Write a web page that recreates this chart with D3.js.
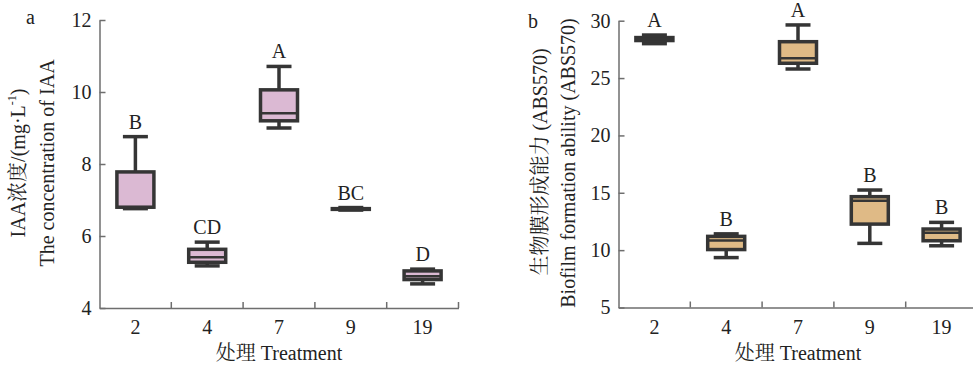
<!DOCTYPE html>
<html><head><meta charset="utf-8">
<script src="https://cdn.jsdelivr.net/npm/d3@7"></script>
<style>
html,body{margin:0;padding:0;background:#fff;}
svg{display:block;}
text{font-family:"Liberation Serif","Noto Serif CJK SC","Noto Sans CJK SC",serif;fill:#222;}
</style></head>
<body>
<svg id="chart" width="973" height="365"></svg>
<script>
// ---- data ----
const categories = ["2", "4", "7", "9", "19"];

// Panel a: IAA concentration (mg·L-1)
const iaaMin    = [6.76, 5.17, 9.00, 6.72, 4.67];
const iaaQ1     = [6.80, 5.27, 9.20, 6.74, 4.79];
const iaaMedian = [6.80, 5.41, 9.41, 6.75, 4.88];
const iaaQ3     = [7.78, 5.63, 10.06, 6.76, 5.03];
const iaaMax    = [8.76, 5.83, 10.71, 6.79, 5.08];
const iaaLetters = ["B", "CD", "A", "BC", "D"];
const iaaTicks = [4, 6, 8, 10, 12];

// Panel b: biofilm formation ability (ABS570)
const bioMin    = [28.00, 9.35, 25.79, 10.59, 10.38];
const bioQ1     = [28.27, 10.05, 26.29, 12.27, 10.82];
const bioMedian = [28.40, 10.85, 26.72, 14.31, 11.52];
const bioQ3     = [28.53, 11.20, 28.17, 14.66, 11.84];
const bioMax    = [28.75, 11.42, 29.63, 15.24, 12.42];
const bioLetters = ["A", "B", "A", "B", "B"];
const bioTicks = [5, 10, 15, 20, 25, 30];

const svg = d3.select("#chart");
const axisColor = "#6e6e6e";
const boxStroke = "#353535";

function panel(opts) {
  const x = d3.scaleBand().domain(categories).range([opts.x0, opts.x1]).paddingInner(0).paddingOuter(0);
  const y = d3.scaleLinear().domain(opts.domain).range([opts.yBottom, opts.yTop]);
  const g = svg.append("g");

  // y axis (inward ticks)
  const ya = g.append("g").attr("transform", `translate(${opts.x0},0)`)
    .call(d3.axisLeft(y).tickValues(opts.ticks).tickSizeInner(-6).tickSizeOuter(0).tickPadding(8));
  ya.select(".domain").attr("stroke", axisColor).attr("stroke-width", 1.5);
  ya.selectAll(".tick line").attr("stroke", axisColor).attr("stroke-width", 1.5);
  ya.selectAll(".tick text").attr("font-size", 20).attr("font-family", "Liberation Serif").attr("fill", "#222");

  // x axis: labels at band centers, ticks at band boundaries (inward)
  const xa = g.append("g").attr("transform", `translate(0,${opts.yBottom})`)
    .call(d3.axisBottom(x).tickSize(0).tickPadding(12));
  xa.select(".domain").attr("stroke", axisColor).attr("stroke-width", 1.5);
  xa.selectAll(".tick text").attr("font-size", 20).attr("font-family", "Liberation Serif").attr("fill", "#222");
  g.append("g").selectAll("line").data(categories).join("line")
    .attr("x1", d => x(d) + x.bandwidth()).attr("x2", d => x(d) + x.bandwidth())
    .attr("y1", opts.yBottom).attr("y2", opts.yBottom - 6)
    .attr("stroke", axisColor).attr("stroke-width", 1.5);

  // boxes
  const bw = 37, cw = 25;
  const rows = categories.map((c, i) => ({
    c, min: opts.min[i], q1: opts.q1[i], med: opts.med[i], q3: opts.q3[i], max: opts.max[i], lab: opts.letters[i]
  }));
  const bg = g.append("g").selectAll("g").data(rows).join("g")
    .attr("transform", d => `translate(${x(d.c) + x.bandwidth() / 2},0)`);
  bg.append("line").attr("x1", 0).attr("x2", 0)
    .attr("y1", d => y(d.min)).attr("y2", d => y(d.max))
    .attr("stroke", boxStroke).attr("stroke-width", 3.5);
  bg.append("line").attr("x1", -cw / 2).attr("x2", cw / 2)
    .attr("y1", d => y(d.max)).attr("y2", d => y(d.max))
    .attr("stroke", boxStroke).attr("stroke-width", 3.5);
  bg.append("line").attr("x1", -cw / 2).attr("x2", cw / 2)
    .attr("y1", d => y(d.min)).attr("y2", d => y(d.min))
    .attr("stroke", boxStroke).attr("stroke-width", 3.5);
  bg.append("rect").attr("x", -bw / 2).attr("width", bw)
    .attr("y", d => y(d.q3)).attr("height", d => Math.max(0.01, y(d.q1) - y(d.q3)))
    .attr("fill", opts.fill).attr("stroke", boxStroke).attr("stroke-width", 3.5);
  bg.append("line").attr("x1", -bw / 2).attr("x2", bw / 2)
    .attr("y1", d => y(d.med)).attr("y2", d => y(d.med))
    .attr("stroke", boxStroke).attr("stroke-width", 2.5);
  bg.append("text").attr("text-anchor", "middle").attr("font-size", 20)
    .attr("y", d => y(d.max) - 8).text(d => d.lab);

  // x title
  g.append("text").attr("x", (opts.x0 + opts.x1c) / 2).attr("y", 360)
    .attr("text-anchor", "middle").attr("font-size", 20).text("处理 Treatment");
  return {x, y, g};
}

panel({x0: 99.5, x1: 458.5, x1c: 458.5, yTop: 20, yBottom: 308, domain: [4, 12], ticks: iaaTicks,
  min: iaaMin, q1: iaaQ1, med: iaaMedian, q3: iaaQ3, max: iaaMax, letters: iaaLetters, fill: "#dbb9d3"});
panel({x0: 618.5, x1: 977.5, x1c: 977.5, yTop: 20.7, yBottom: 307.5, domain: [5, 30], ticks: bioTicks,
  min: bioMin, q1: bioQ1, med: bioMedian, q3: bioQ3, max: bioMax, letters: bioLetters, fill: "#dfba86"});

// panel letters
svg.append("text").attr("x", 26).attr("y", 24).attr("font-size", 20).text("a");
svg.append("text").attr("x", 528).attr("y", 28).attr("font-size", 20).text("b");

// y titles
function ytitle(cx, cy, build) {
  const t = svg.append("text").attr("transform", `translate(${cx},${cy}) rotate(-90)`)
    .attr("text-anchor", "middle").attr("dy", "0.35em").attr("font-size", 20);
  build(t);
}
ytitle(18, 163, t => {
  t.append("tspan").text("IAA浓度/(mg·L");
  t.append("tspan").attr("font-size", 12).attr("dy", "-0.75em").text("-1");
  t.append("tspan").attr("dy", "0.45em").text(")");
});
ytitle(47, 163, t => t.text("The concentration of IAA"));
ytitle(540, 162, t => t.text("生物膜形成能力 (ABS570)"));
ytitle(568, 163, t => t.text("Biofilm formation ability (ABS570)"));
</script>
</body></html>
